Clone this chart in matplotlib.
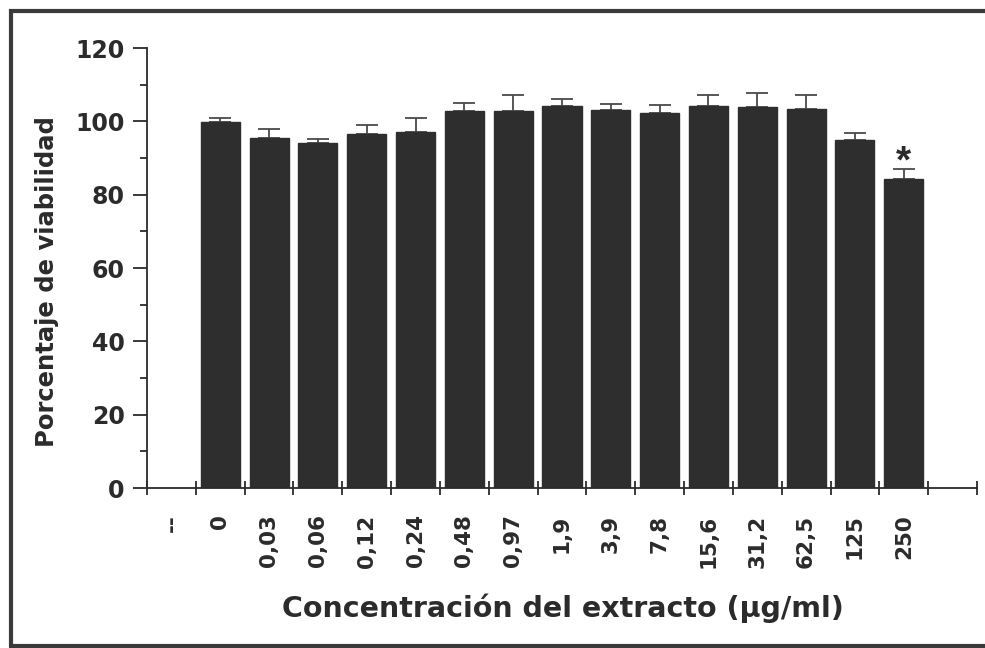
#!/usr/bin/env python3
# Viabilidad celular frente a la concentracion del extracto (barras con error estandar).

import matplotlib
matplotlib.use("Agg")
import matplotlib.pyplot as plt
from matplotlib.lines import Line2D
from matplotlib.ticker import FixedLocator, MultipleLocator
import numpy as np

# data
concentrations = ["0", "0,03", "0,06", "0,12", "0,24", "0,48", "0,97", "1,9",
                  "3,9", "7,8", "15,6", "31,2", "62,5", "125", "250"]
viability = [99.9, 95.5, 94.2, 96.5, 97.2, 102.7, 102.8, 104.1,
             103.1, 102.4, 104.2, 104.0, 103.4, 94.8, 84.3]
sem = [1.0, 2.3, 1.0, 2.6, 3.8, 2.4, 4.4, 2.1,
       1.7, 2.1, 3.0, 3.6, 3.7, 2.0, 2.6]
significant = ["250"]
tick_labels = ["--"] + concentrations + [""]

# the wide bold face of the original is closest to DejaVu Sans Bold in width
plt.rcParams['font.family'] = ['DejaVu Sans']
plt.rcParams['font.weight'] = 'bold'
ink = '#2b2b2b'

W, H = 985, 648
fig = plt.figure(figsize=(W / 100, H / 100), dpi=100)
ax = fig.add_axes([147 / W, 1 - 488 / H, 830 / W, 440 / H])

pos = np.arange(1, len(concentrations) + 1)
ax.bar(pos, viability, width=0.8, color='#2e2e2e', edgecolor='#2e2e2e', zorder=2)
ax.errorbar(pos, viability, yerr=[np.zeros(len(sem)), sem], fmt='none',
            ecolor='#4a4a4a', elinewidth=1.3, capsize=8, capthick=1.3, zorder=1)

for c in significant:
    i = concentrations.index(c)
    ax.annotate("*", xy=(pos[i], viability[i] + sem[i]), xytext=(0, -2.5),
                textcoords='offset points', ha='center', va='baseline',
                fontsize=28, fontweight='bold', color=ink,
                family=['Liberation Sans', 'DejaVu Sans'])

ax.set_xlim(-0.5, len(tick_labels) - 0.5)
ax.set_ylim(0, 120)

# ticks at the slot edges, labels in the slot centres
ax.xaxis.set_major_locator(FixedLocator(np.arange(-0.5, len(tick_labels), 1.0)))
ax.xaxis.set_minor_locator(FixedLocator(np.arange(len(tick_labels))))
ax.set_xticklabels([], minor=False)
ax.set_xticklabels(tick_labels, minor=True, rotation=90, fontsize=15.5,
                   fontweight='bold', color=ink, va='top')
ax.tick_params(axis='x', which='major', direction='inout', length=10, width=1.3, color=ink)
ax.tick_params(axis='x', which='minor', length=0, pad=19)

ax.yaxis.set_major_locator(MultipleLocator(20))
ax.yaxis.set_minor_locator(MultipleLocator(10))
ax.tick_params(axis='y', which='major', direction='out', length=10, width=1.3,
               color=ink, pad=6, labelsize=17, labelcolor=ink)
ax.tick_params(axis='y', which='minor', direction='out', length=5, width=1.3, color=ink)
for lab in ax.get_yticklabels():
    lab.set_fontweight('bold')

for s in ('top', 'right'):
    ax.spines[s].set_visible(False)
for s in ('left', 'bottom'):
    ax.spines[s].set_linewidth(1.3)
    ax.spines[s].set_color(ink)

fig.text(47 / W, 1 - 282 / H, "Porcentaje de viabilidad", rotation=90,
         ha='center', va='center', fontsize=17.5, fontweight='bold', color=ink)
fig.text(563 / W, 1 - 608 / H, "Concentración del extracto (\u03bcg/ml)",
         ha='center', va='center', fontsize=20.5, fontweight='bold', color=ink)

# frame round the figure (left, top, bottom)
frame = dict(color='#3a3a3a', linewidth=3, transform=fig.transFigure, solid_capstyle='butt')
fig.add_artist(Line2D([10.5 / W, 10.5 / W], [1 - 9 / H, 1 - 647 / H], **frame))
fig.add_artist(Line2D([9 / W, 1.0], [1 - 11 / H, 1 - 11 / H], **frame))
fig.add_artist(Line2D([9 / W, 1.0], [1 - 646 / H, 1 - 646 / H], **frame))

fig.savefig("out.png", dpi=100)
